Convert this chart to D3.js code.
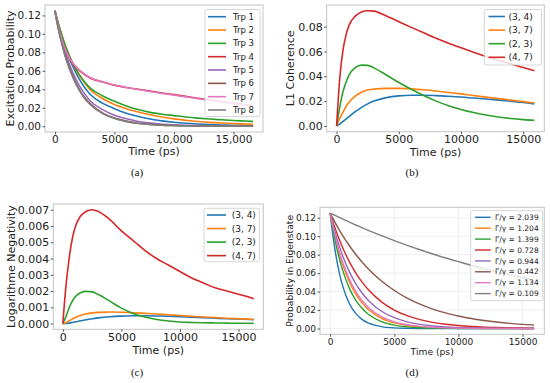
<!DOCTYPE html>
<html><head><meta charset="utf-8">
<script src="https://cdn.jsdelivr.net/npm/d3@7"></script>
<style>
body{margin:0;background:#fff}
svg{display:block;font-family:"DejaVu Sans",sans-serif}
</style>
</head><body>
<svg id="chart" width="550" height="383"></svg>
<script>
// ---------- DATA ----------
const colors = ["#1f77b4","#ff7f0e","#2ca02c","#d62728","#9467bd","#8c564b","#e377c2","#7f7f7f"];

// (a) Excitation probability
const timesA = [0,250,500,750,1000,1500,2000,2500,3000,4000,5000,6000,7000,8000,9000,10000,11000,12000,13000,14000,15000,16000,16650];
const namesA = ["Trp 1","Trp 2","Trp 3","Trp 4","Trp 5","Trp 6","Trp 7","Trp 8"];
const trp1 = [0.125,0.112,0.100,0.090,0.080,0.065,0.052,0.042,0.034,0.025,0.019,0.014,0.0105,0.0078,0.0058,0.0043,0.0032,0.0024,0.0018,0.0014,0.0011,0.0009,0.0008];
const trp2 = [0.125,0.113,0.102,0.092,0.083,0.068,0.056,0.047,0.039,0.030,0.0235,0.019,0.0155,0.0125,0.010,0.008,0.0065,0.0052,0.0042,0.0035,0.0029,0.0024,0.0021];
const trp3 = [0.125,0.113,0.102,0.092,0.083,0.068,0.057,0.048,0.041,0.033,0.027,0.022,0.018,0.015,0.013,0.0115,0.010,0.0088,0.0078,0.007,0.0062,0.0056,0.0052];
const trp4 = [0.125,0.110,0.097,0.087,0.079,0.068,0.061,0.056,0.052,0.048,0.0445,0.042,0.040,0.038,0.036,0.0342,0.0323,0.0303,0.0285,0.0268,0.025,0.0233,0.0222];
const trp5 = [0.125,0.110,0.097,0.085,0.075,0.058,0.045,0.035,0.027,0.018,0.012,0.008,0.0052,0.0034,0.0022,0.0015,0.001,0.0007,0.0005,0.0004,0.0003,0.0002,0.0002];
const trp6 = [0.125,0.108,0.094,0.082,0.071,0.054,0.041,0.031,0.024,0.0145,0.009,0.0055,0.0033,0.002,0.0012,0.0008,0.0005,0.0003,0.0002,0.0001,0.0001,0.0001,0.0001];
const trp7 = [0.125,0.110,0.0975,0.0875,0.0795,0.0685,0.0615,0.0565,0.0524,0.0482,0.0446,0.0419,0.0397,0.0376,0.0356,0.0337,0.0318,0.0299,0.0281,0.0264,0.0247,0.023,0.0219];
const trp8 = [0.125,0.108,0.093,0.081,0.070,0.053,0.040,0.030,0.023,0.0138,0.0083,0.005,0.003,0.0018,0.0011,0.0007,0.0004,0.0003,0.0002,0.0001,0.0001,0.0001,0.0001];

// (b) L1 coherence
const timesB = [0,250,500,750,1000,1500,2000,2500,3000,4000,5000,6000,7000,8000,9000,10000,11000,12000,13000,14000,15000,15900];
const pairNames = ["(3, 4)","(3, 7)","(2, 3)","(4, 7)"];
const l1_34 = [0,0.0015,0.0035,0.0055,0.0075,0.0115,0.0150,0.0178,0.0200,0.0228,0.0242,0.0247,0.0247,0.0244,0.0239,0.0233,0.0225,0.0217,0.0208,0.0199,0.0190,0.0178];
const l1_37 = [0,0.006,0.011,0.0155,0.019,0.024,0.0272,0.0289,0.0298,0.0303,0.0303,0.0299,0.0292,0.0282,0.0270,0.0258,0.0245,0.0232,0.0220,0.0208,0.0196,0.0185];
const l1_23 = [0,0.015,0.027,0.035,0.041,0.047,0.049,0.0488,0.0468,0.0410,0.0350,0.0295,0.0245,0.0200,0.0163,0.0133,0.0108,0.0088,0.0072,0.0060,0.0051,0.0045];
const l1_47 = [0,0.038,0.060,0.073,0.081,0.0885,0.0918,0.0928,0.0925,0.0885,0.0840,0.0794,0.0750,0.0707,0.0667,0.0630,0.0594,0.0560,0.0529,0.0499,0.0471,0.0445];

// (c) Logarithmic negativity
const timesC = [0,250,500,750,1000,1500,2000,2500,3000,4000,5000,6000,7000,8000,9000,10000,11000,12000,13000,14000,15000,16000,16300];
const ln_34 = [0,0.00001,0.00003,0.00006,0.0001,0.00017,0.00024,0.0003,0.00035,0.00042,0.00046,0.00048,0.00048,0.00047,0.00045,0.00042,0.00039,0.00036,0.00033,0.0003,0.00028,0.00025,0.00024];
const ln_37 = [0,0.00005,0.00015,0.00026,0.00036,0.0005,0.0006,0.00066,0.00069,0.00071,0.0007,0.00067,0.00063,0.00059,0.00054,0.0005,0.00045,0.00041,0.00037,0.00033,0.0003,0.00027,0.00026];
const ln_23 = [0,0.0004,0.0009,0.0013,0.0016,0.0019,0.00198,0.00195,0.0018,0.00138,0.00095,0.00062,0.0004,0.00025,0.00016,0.0001,0.00007,0.00005,0.00004,0.00003,0.00002,0.00002,0.00002];
const ln_47 = [0,0.0022,0.0038,0.0050,0.0058,0.0066,0.0069,0.0070,0.0069,0.0064,0.0057,0.0051,0.0045,0.0040,0.0036,0.0032,0.0028,0.0025,0.0022,0.0020,0.0018,0.0016,0.00152];

// (d) Probability in eigenstate
const timesD = [0,250,500,750,1000,1500,2000,2500,3000,4000,5000,6000,7000,8000,9000,10000,11000,12000,13000,14000,15000,15900];
const ratioNames = ["Γ/γ = 2.039","Γ/γ = 1.204","Γ/γ = 1.399","Γ/γ = 0.728","Γ/γ = 0.944","Γ/γ = 0.442","Γ/γ = 1.134","Γ/γ = 0.109"];
const eig1 = [0.125,0.0967,0.0749,0.0579,0.0448,0.0268,0.0161,0.0096,0.0058,0.0021,0.0007,0.0003,0.0001,0,0,0,0,0,0,0,0,0];
const eig2 = [0.125,0.1075,0.0924,0.0794,0.0682,0.0504,0.0372,0.0275,0.0203,0.0111,0.0061,0.0033,0.0018,0.0010,0.0005,0.0003,0.0002,0.0001,0,0,0,0];
const eig3 = [0.125,0.1049,0.0879,0.0738,0.0619,0.0435,0.0306,0.0216,0.0152,0.0075,0.0037,0.0018,0.0009,0.0005,0.0002,0.0001,0,0,0,0,0,0];
const eig4 = [0.125,0.1141,0.1041,0.0950,0.0867,0.0722,0.0601,0.0500,0.0417,0.0289,0.0200,0.0139,0.0096,0.0067,0.0046,0.0032,0.0022,0.0015,0.0011,0.0007,0.0005,0.0004];
const eig5 = [0.125,0.1110,0.0986,0.0876,0.0778,0.0613,0.0484,0.0382,0.0301,0.0187,0.0117,0.0072,0.0045,0.0028,0.0017,0.0011,0.0007,0.0004,0.0003,0.0002,0.0001,0.0001];
const eig6 = [0.125,0.1182,0.1119,0.1058,0.1001,0.0896,0.0801,0.0717,0.0642,0.0514,0.0412,0.0330,0.0264,0.0211,0.0169,0.0136,0.0108,0.0087,0.0070,0.0056,0.0045,0.0037];
const eig7 = [0.125,0.1084,0.0940,0.0815,0.0707,0.0532,0.0400,0.0301,0.0226,0.0128,0.0072,0.0041,0.0023,0.0013,0.0007,0.0004,0.0002,0.0001,0.0001,0,0,0];
const eig8 = [0.125,0.1233,0.1216,0.1200,0.1184,0.1152,0.1121,0.1090,0.1061,0.1005,0.0951,0.0901,0.0853,0.0807,0.0764,0.0724,0.0685,0.0649,0.0614,0.0582,0.0551,0.0524];

// ticks
const xTickValues = [0,5000,10000,15000];
const xTickLabelsA = ["0","5000","10,000","15,000"];
const xTickLabels = ["0","5000","10000","15000"];
const yTicksA = [0,0.02,0.04,0.06,0.08,0.10,0.12];
const yTicksB = [0,0.02,0.04,0.06,0.08];
const yTicksC = [0,0.001,0.002,0.003,0.004,0.005,0.006,0.007];
const yTicksD = [0,0.02,0.04,0.06,0.08,0.10,0.12];

// ---------- DRAW ----------
const svg = d3.select("#chart");
let clipId = 0;

function drawPanel(p) {
  const g = svg.append("g");
  const xMax = d3.max(p.times);
  const yMax = d3.max(p.series, s => d3.max(s.values));
  const x = d3.scaleLinear().domain([-0.05 * xMax, 1.05 * xMax]).range([p.l, p.r]);
  const y = d3.scaleLinear().domain([-0.05 * yMax, 1.05 * yMax]).range([p.b, p.t]);

  if (p.grid) {
    g.selectAll("line.gx").data(xTickValues).join("line")
      .attr("x1", d => x(d)).attr("x2", d => x(d)).attr("y1", p.t).attr("y2", p.b)
      .attr("stroke", "#ebebeb").attr("stroke-width", 0.8);
    g.selectAll("line.gy").data(p.yTicks).join("line")
      .attr("y1", d => y(d)).attr("y2", d => y(d)).attr("x1", p.l).attr("x2", p.r)
      .attr("stroke", "#ebebeb").attr("stroke-width", 0.8);
  }

  const id = "clip" + (clipId++);
  svg.append("clipPath").attr("id", id).append("rect")
    .attr("x", p.l).attr("y", p.t).attr("width", p.r - p.l).attr("height", p.b - p.t);

  const line = d3.line().x((d, i) => x(p.times[i])).y(d => y(d)).curve(d3.curveMonotoneX);
  const lg = g.append("g").attr("clip-path", `url(#${id})`);
  p.series.forEach(s => {
    lg.append("path").attr("d", line(s.values)).attr("fill", "none")
      .attr("stroke", s.color).attr("stroke-width", p.lw || 1.6).attr("stroke-linejoin", "round");
  });

  g.append("rect").attr("x", p.l).attr("y", p.t).attr("width", p.r - p.l).attr("height", p.b - p.t)
    .attr("fill", "none").attr("stroke", "#c4c4c4").attr("stroke-width", 1);

  const xa = g.append("g").attr("transform", `translate(0,${p.b})`)
    .call(d3.axisBottom(x).tickValues(xTickValues).tickFormat((d, i) => p.xLabels[i]).tickSize(2.5).tickPadding(1.5));
  const ya = g.append("g").attr("transform", `translate(${p.l},0)`)
    .call(d3.axisLeft(y).tickValues(p.yTicks).tickFormat(d3.format(p.yFmt)).tickSize(2.5).tickPadding(1.5));
  [xa, ya].forEach(a => {
    a.select(".domain").remove();
    a.selectAll(".tick line").attr("stroke", "#555");
    a.selectAll("text").attr("fill", "#222").style("font-family", "DejaVu Sans").style("font-size", p.tickFs + "px");
  });

  g.append("text").attr("x", (p.l + p.r) / 2).attr("y", p.xTitleY).attr("text-anchor", "middle")
    .attr("fill", "#222").style("font-size", p.titleFs + "px").text("Time (ps)");
  g.append("text").attr("transform", `translate(${p.yTitleX},${(p.t + p.b) / 2}) rotate(-90)`)
    .attr("text-anchor", "middle").attr("fill", "#222").style("font-size", p.titleFs + "px").text(p.yTitle);

  const L = p.legend;
  const lgd = g.append("g");
  lgd.append("rect").attr("x", L.x0).attr("y", L.y0).attr("width", L.x1 - L.x0).attr("height", L.y1 - L.y0)
    .attr("rx", 2).attr("fill", "#fff").attr("fill-opacity", 0.8).attr("stroke", "#cccccc").attr("stroke-width", 0.8);
  p.series.forEach((s, i) => {
    const yy = L.row0 + i * L.dy;
    lgd.append("line").attr("x1", L.lx0).attr("x2", L.lx1).attr("y1", yy).attr("y2", yy)
      .attr("stroke", s.color).attr("stroke-width", p.lw || 1.6);
    lgd.append("text").attr("x", L.tx).attr("y", yy).attr("dy", "0.35em").attr("fill", "#222")
      .style("font-size", L.fs + "px").text(s.name);
  });

  svg.append("text").attr("x", p.capX).attr("y", p.capY).attr("text-anchor", "middle")
    .style("font-family", "Liberation Serif, serif").style("font-size", "11px").attr("fill", "#111").text(p.caption);
}

drawPanel({
  l: 45, r: 263, t: 5, b: 132, times: timesA,
  series: [trp1, trp2, trp3, trp4, trp5, trp6, trp7, trp8].map((v, i) => ({ name: namesA[i], values: v, color: colors[i] })),
  xLabels: xTickLabelsA, yTicks: yTicksA, yFmt: ".2f", tickFs: 10.5, titleFs: 11,
  xTitleY: 155, yTitleX: 13.5, yTitle: "Excitation Probability",
  legend: { x0: 205, x1: 260, y0: 9.5, y1: 116.5, row0: 16.7, dy: 13.33, lx0: 208, lx1: 226, tx: 233, fs: 8.5 },
  caption: "(a)", capX: 137, capY: 176
});

drawPanel({
  l: 326.7, r: 544.3, t: 5, b: 131.7, times: timesB,
  series: [l1_34, l1_37, l1_23, l1_47].map((v, i) => ({ name: pairNames[i], values: v, color: colors[i] })),
  xLabels: xTickLabels, yTicks: yTicksB, yFmt: ".2f", tickFs: 11, titleFs: 11,
  xTitleY: 156, yTitleX: 294, yTitle: "L1 Coherence",
  legend: { x0: 484.3, x1: 541.5, y0: 9.5, y1: 65, row0: 16.5, dy: 13.6, lx0: 488.5, lx1: 505, tx: 508.5, fs: 9 },
  caption: "(b)", capX: 412, capY: 176
});

drawPanel({
  l: 53.3, r: 263.3, t: 204, b: 329.3, times: timesC,
  series: [ln_34, ln_37, ln_23, ln_47].map((v, i) => ({ name: pairNames[i], values: v, color: colors[i] })),
  xLabels: xTickLabels, yTicks: yTicksC, yFmt: ".3f", tickFs: 11, titleFs: 11,
  xTitleY: 353.5, yTitleX: 14.7, yTitle: "Logarithme Negativity",
  legend: { x0: 204, x1: 259.3, y0: 208.3, y1: 261.7, row0: 215, dy: 13.55, lx0: 207, lx1: 226, tx: 231.7, fs: 9 },
  caption: "(c)", capX: 137, capY: 376
});

drawPanel({
  l: 320, r: 544.3, t: 207.3, b: 334.3, times: timesD, grid: true, lw: 1.4,
  series: [eig1, eig2, eig3, eig4, eig5, eig6, eig7, eig8].map((v, i) => ({ name: ratioNames[i], values: v, color: colors[i] })),
  xLabels: xTickLabels, yTicks: yTicksD, yFmt: ".2f", tickFs: 9, titleFs: 9.2,
  xTitleY: 355, yTitleX: 293.3, yTitle: "Probability in Eigenstate",
  legend: { x0: 470.7, x1: 542.7, y0: 210.7, y1: 300.7, row0: 217.3, dy: 10.9, lx0: 475, lx1: 490.7, tx: 495, fs: 7.5 },
  caption: "(d)", capX: 412, capY: 376
});
</script>
</body></html>
